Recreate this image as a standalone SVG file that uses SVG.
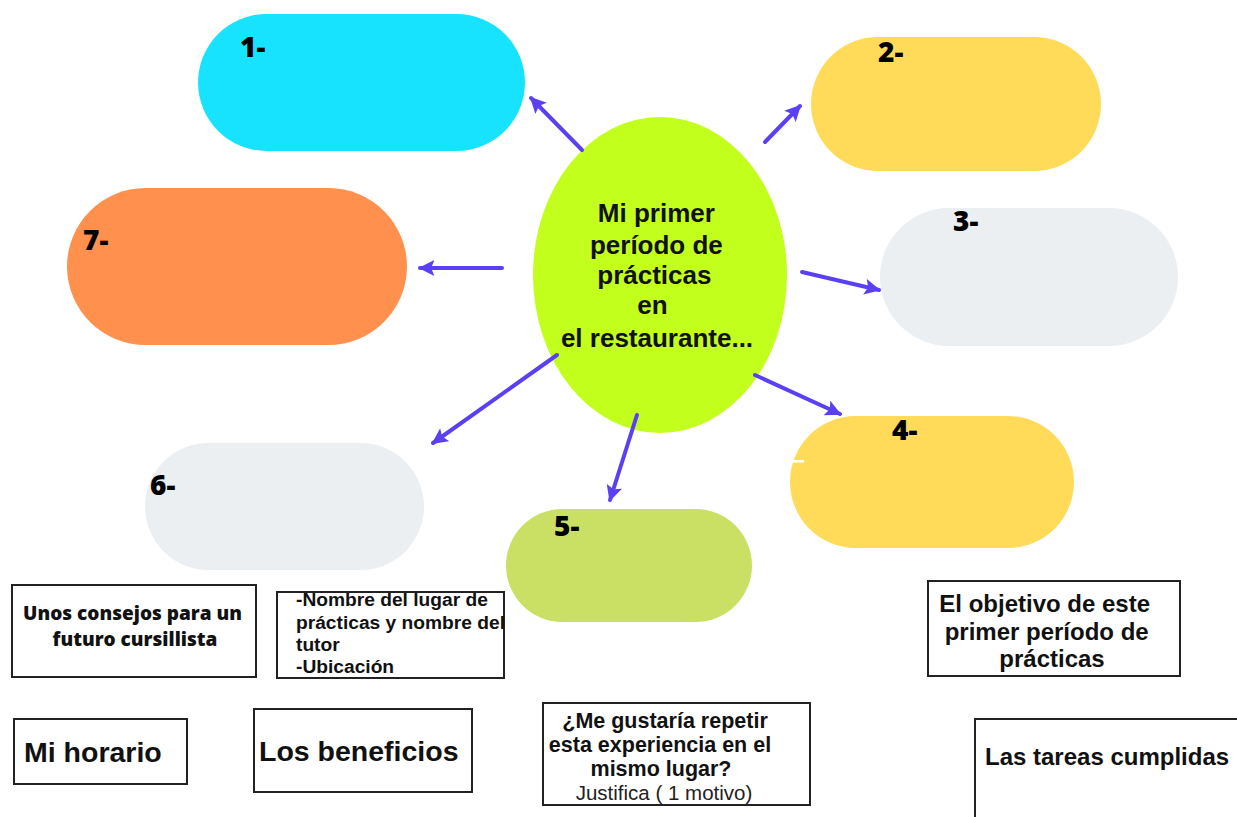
<svg xmlns="http://www.w3.org/2000/svg" width="1237" height="817" viewBox="0 0 1237 817">
<defs>
<marker id="ah" viewBox="0 0 10 10" refX="9" refY="5" markerWidth="4.2" markerHeight="4" orient="auto" markerUnits="strokeWidth">
<path d="M0,0 L10,5 L0,10 L2,5 z" fill="#5a40f5"/>
</marker>
<style>
.num{font-family:"Open Sans","Liberation Sans",sans-serif;font-weight:800;font-size:28px;fill:#000}
.conn line{stroke:#5a40f5;stroke-width:4;stroke-linecap:round;marker-end:url(#ah)}
.box{fill:#fff;stroke:#222;stroke-width:2}
.b{font-family:"Liberation Sans",Arial,sans-serif;font-weight:bold;fill:#111}
.r{font-family:"Liberation Sans",Arial,sans-serif;fill:#222}
</style>
</defs>
<rect width="1237" height="817" fill="#fff"/>

<g id="center">
<ellipse cx="660" cy="275" rx="127" ry="158" fill="#c2ff1c"/>
<text class="b" font-size="26" text-anchor="middle">
<tspan x="660" y="222">Mi primer</tspan>
<tspan x="660" y="254">período de</tspan>
<tspan x="658" y="284">prácticas</tspan>
<tspan x="656" y="314">en</tspan>
<tspan x="657" y="347">el restaurante...</tspan>
</text>
</g>

<g id="n1"><rect x="198" y="14" width="327" height="137" rx="68.5" fill="#18e3ff"/><text class="num" x="240" y="57">1-</text></g>
<g id="n2"><rect x="811" y="37" width="290" height="134" rx="67" fill="#ffdb59"/><text class="num" x="878" y="62">2-</text></g>
<g id="n3"><rect x="880" y="208" width="298" height="138" rx="69" fill="#ebeff2"/><text class="num" x="953" y="231">3-</text></g>
<g id="n4"><rect x="790" y="416" width="284" height="132" rx="66" fill="#ffdb59"/><rect x="792" y="460" width="12" height="2.5" fill="#fff"/><text class="num" x="892" y="440">4-</text></g>
<g id="n5"><rect x="506" y="509" width="246" height="113" rx="56.5" fill="#c9e065"/><text class="num" x="554" y="536">5-</text></g>
<g id="n6"><rect x="145" y="443" width="279" height="127" rx="63.5" fill="#ebeff2"/><text class="num" x="150" y="495">6-</text></g>
<g id="n7"><rect x="67" y="188" width="340" height="157" rx="78.5" fill="#ff904e"/><text class="num" x="83" y="250">7-</text></g>

<g class="conn" id="connectors">
<line x1="582" y1="150" x2="531" y2="98"/>
<line x1="765" y1="142" x2="800" y2="106"/>
<line x1="802" y1="272" x2="879" y2="290"/>
<line x1="755" y1="375" x2="840" y2="414"/>
<line x1="637" y1="415" x2="610" y2="500"/>
<line x1="557" y1="355" x2="433" y2="443"/>
<line x1="502" y1="268" x2="420" y2="268"/>
</g>

<g id="b-consejos">
<rect class="box" x="12" y="585" width="244" height="92"/>
<text font-family="'Open Sans','Liberation Sans',sans-serif" font-weight="800" font-size="19" fill="#111" text-anchor="middle">
<tspan x="135" y="620">Unos consejos para un</tspan>
<tspan x="135" y="646">futuro cursillista</tspan>
</text>
</g>

<g id="b-nombre">
<rect class="box" x="277" y="592" width="227" height="86"/>
<text class="b" font-size="19.2">
<tspan x="296" y="606">-Nombre del lugar de</tspan>
<tspan x="296" y="629">prácticas y nombre del</tspan>
<tspan x="296" y="651">tutor</tspan>
<tspan x="296" y="673">-Ubicación</tspan>
</text>
</g>

<g id="b-objetivo">
<rect class="box" x="928" y="581" width="252" height="95"/>
<text class="b" font-size="24" text-anchor="middle">
<tspan x="1048" y="612">El objetivo de este</tspan>
<tspan x="1050" y="640">primer período de</tspan>
<tspan x="1052" y="667">prácticas</tspan>
</text>
</g>

<g id="b-horario">
<rect class="box" x="14" y="719" width="173" height="65"/>
<text class="b" font-size="28.5" x="24" y="762">Mi horario</text>
</g>

<g id="b-beneficios">
<rect class="box" x="254" y="709" width="218" height="83"/>
<text class="b" font-size="28.5" x="259" y="761">Los beneficios</text>
</g>

<g id="b-repetir">
<rect class="box" x="543" y="703" width="267" height="102"/>
<text class="b" font-size="21.5" text-anchor="middle">
<tspan x="668" y="728">¿Me gustaría repetir</tspan>
<tspan x="663" y="752">esta experiencia en el</tspan>
<tspan x="661" y="776">mismo lugar?</tspan>
</text>
<text class="r" font-size="20.5" x="664" y="800" text-anchor="middle">Justifica ( 1 motivo)</text>
</g>

<g id="b-tareas">
<rect class="box" x="975" y="719" width="280" height="120"/>
<text class="b" font-size="24" x="985" y="765">Las tareas cumplidas</text>
</g>
</svg>
